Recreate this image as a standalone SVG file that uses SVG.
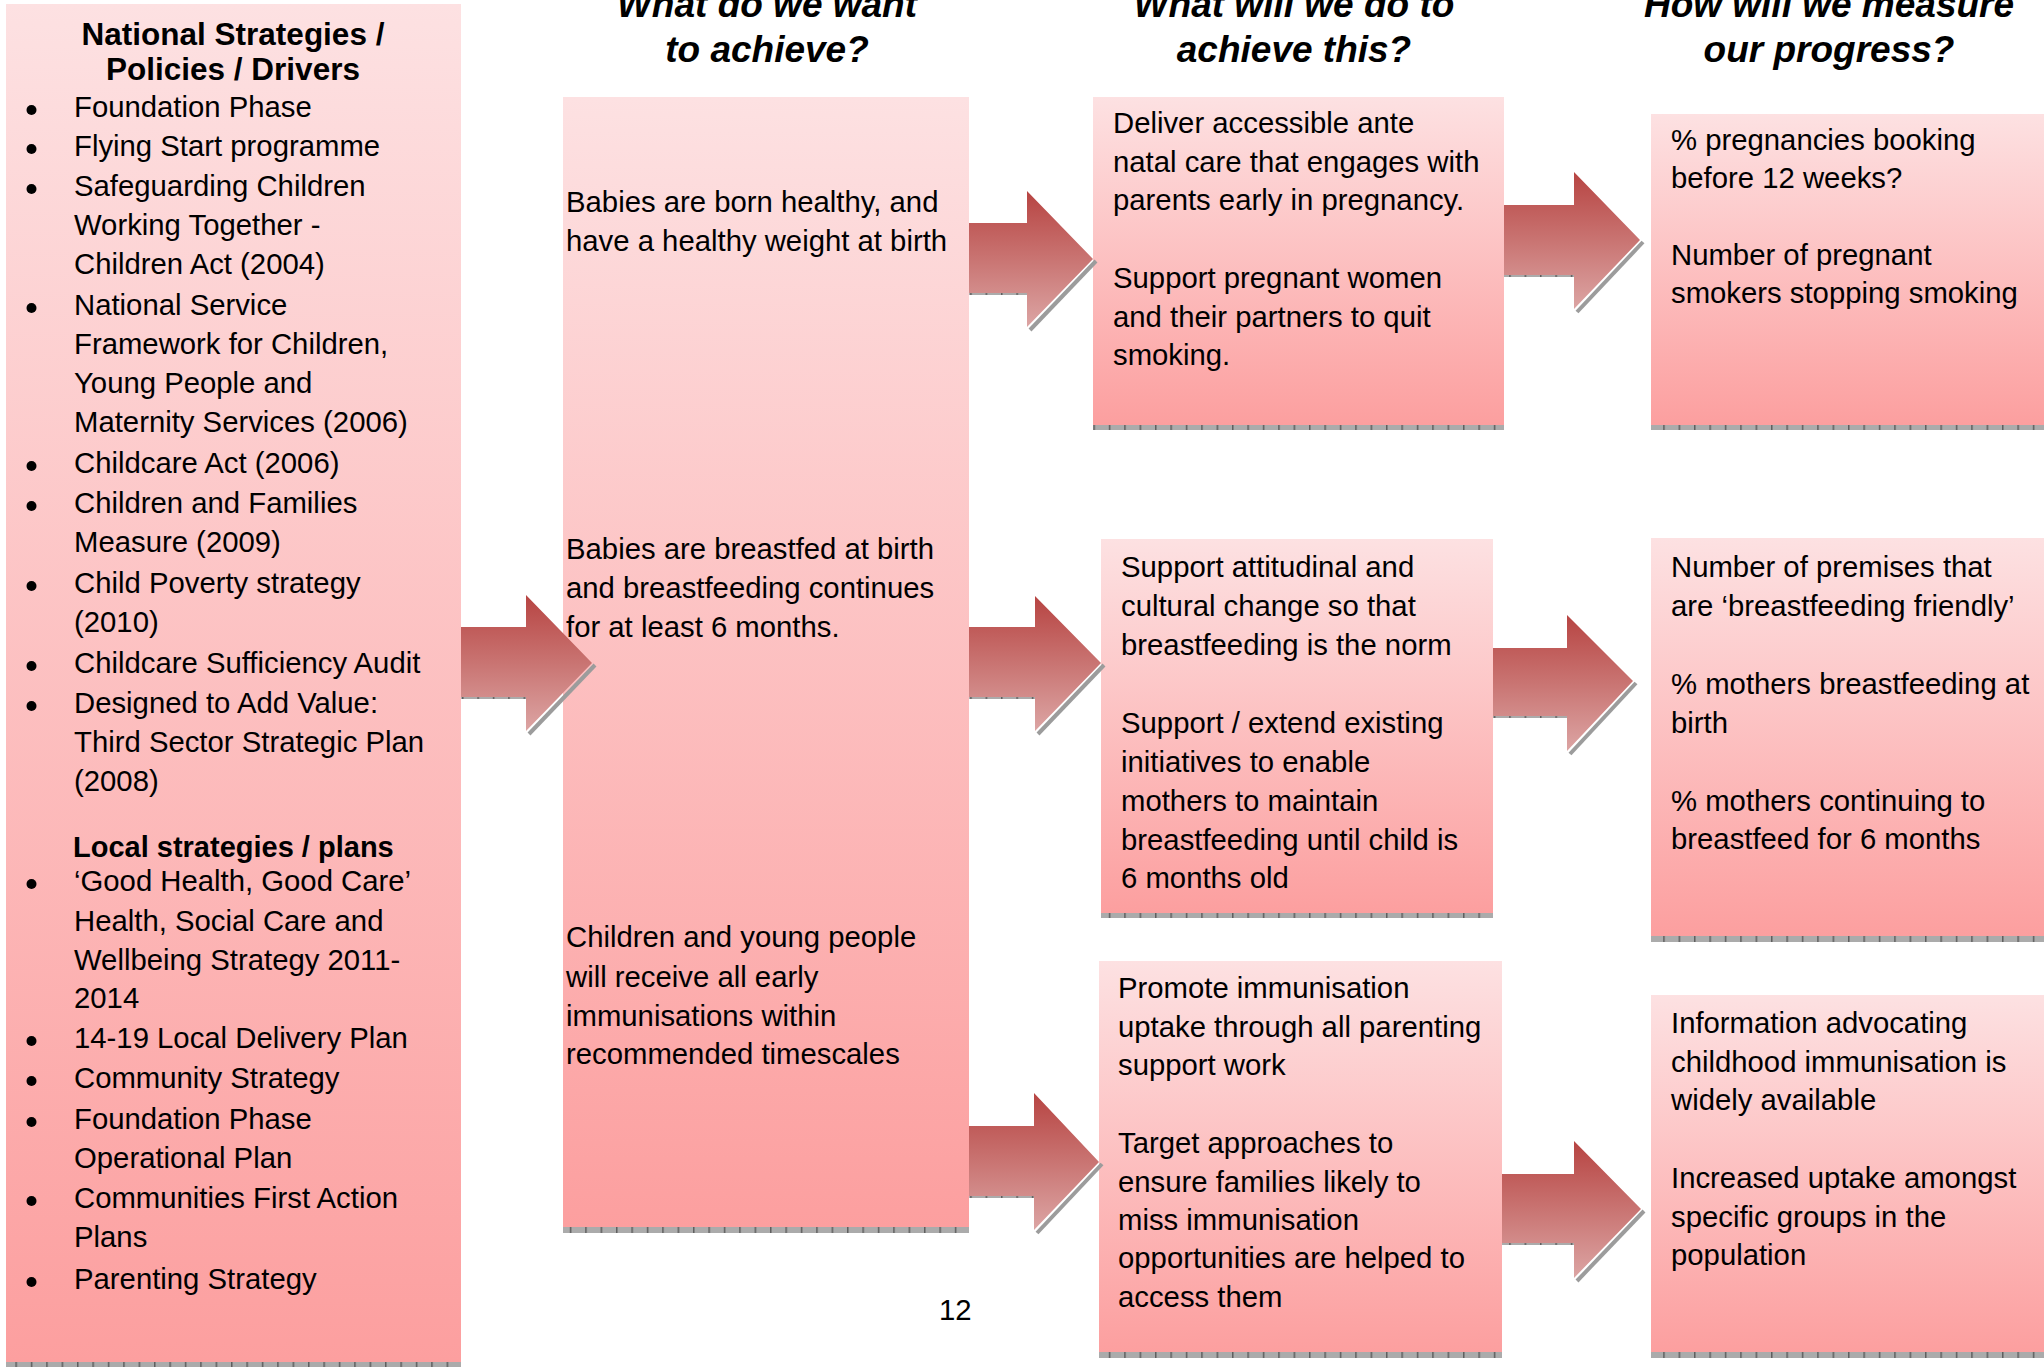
<svg xmlns="http://www.w3.org/2000/svg" width="2044" height="1367" viewBox="0 0 2044 1367">
<style>
.t{font-family:"Liberation Sans",Arial,sans-serif;font-size:29.3px;fill:#000}
.b{font-family:"Liberation Sans",Arial,sans-serif;font-weight:bold;fill:#000}
.h{font-family:"Liberation Sans",Arial,sans-serif;font-weight:bold;font-style:italic;font-size:37px;fill:#000;text-anchor:middle}
.bul{fill:#000}
.box{fill:url(#boxGrad)}
.hatch{fill:url(#hatch)}
.arrow{fill:url(#arrowGrad)}
.shadow{fill:none;stroke:#9c9c9c;stroke-width:4}
</style>
<defs>
<linearGradient id="boxGrad" x1="0" y1="0" x2="0" y2="1">
<stop offset="0" stop-color="#fde1e2"/>
<stop offset="1" stop-color="#fc9f9f"/>
</linearGradient>
<linearGradient id="arrowGrad" x1="0" y1="0" x2="0" y2="1">
<stop offset="0" stop-color="#b74442"/>
<stop offset="0.5" stop-color="#c97472"/>
<stop offset="1" stop-color="#dca5a4"/>
</linearGradient>
<pattern id="hatch" width="15.4" height="6" patternUnits="userSpaceOnUse">
<rect width="15.4" height="6" fill="#ababab"/>
<rect width="1.5" height="6" fill="#5e5e5e"/>
</pattern>
</defs>
<rect width="2044" height="1367" fill="#fff"/>

<g id="headers">
<text class="h" x="767" y="17">What do we want</text>
<text class="h" x="767" y="62">to achieve?</text>
<text class="h" x="1294" y="17">What will we do to</text>
<text class="h" x="1294" y="62">achieve this?</text>
<text class="h" x="1829" y="17">How will we measure</text>
<text class="h" x="1829" y="62">our progress?</text>
</g>

<g id="node-drivers">
<rect class="box" x="6" y="4" width="455" height="1358"/>
<rect class="hatch" x="6" y="1362" width="455" height="5"/>
<text class="b" x="233" y="45" font-size="31.5" text-anchor="middle">National Strategies /</text>
<text class="b" x="233" y="80" font-size="31.5" text-anchor="middle">Policies / Drivers</text>
<g class="bul">
<circle cx="31.5" cy="110" r="5"/>
<circle cx="31.5" cy="149" r="5"/>
<circle cx="31.5" cy="189" r="5"/>
<circle cx="31.5" cy="308" r="5"/>
<circle cx="31.5" cy="466" r="5"/>
<circle cx="31.5" cy="506" r="5"/>
<circle cx="31.5" cy="586" r="5"/>
<circle cx="31.5" cy="666" r="5"/>
<circle cx="31.5" cy="706" r="5"/>
<circle cx="31.5" cy="884" r="5"/>
<circle cx="31.5" cy="1041" r="5"/>
<circle cx="31.5" cy="1081" r="5"/>
<circle cx="31.5" cy="1122" r="5"/>
<circle cx="31.5" cy="1201" r="5"/>
<circle cx="31.5" cy="1282" r="5"/>
</g>
<g class="t">
<text x="74" y="117">Foundation Phase</text>
<text x="74" y="156">Flying Start programme</text>
<text x="74" y="196">Safeguarding Children</text>
<text x="74" y="235">Working Together -</text>
<text x="74" y="274">Children Act (2004)</text>
<text x="74" y="315">National Service</text>
<text x="74" y="354">Framework for Children,</text>
<text x="74" y="393">Young People and</text>
<text x="74" y="432">Maternity Services (2006)</text>
<text x="74" y="473">Childcare Act (2006)</text>
<text x="74" y="513">Children and Families</text>
<text x="74" y="552">Measure (2009)</text>
<text x="74" y="593">Child Poverty strategy</text>
<text x="74" y="632">(2010)</text>
<text x="74" y="673">Childcare Sufficiency Audit</text>
<text x="74" y="713">Designed to Add Value:</text>
<text x="74" y="752">Third Sector Strategic Plan</text>
<text x="74" y="791">(2008)</text>
</g>
<text class="b" x="73" y="857" font-size="29">Local strategies / plans</text>
<g class="t">
<text x="74" y="891">‘Good Health, Good Care’</text>
<text x="74" y="931">Health, Social Care and</text>
<text x="74" y="970">Wellbeing Strategy 2011-</text>
<text x="74" y="1008">2014</text>
<text x="74" y="1048">14-19 Local Delivery Plan</text>
<text x="74" y="1088">Community Strategy</text>
<text x="74" y="1129">Foundation Phase</text>
<text x="74" y="1168">Operational Plan</text>
<text x="74" y="1208">Communities First Action</text>
<text x="74" y="1247">Plans</text>
<text x="74" y="1289">Parenting Strategy</text>
</g>
</g>

<g id="node-outcomes">
<rect class="box" x="563" y="97" width="406" height="1130"/>
<rect class="hatch" x="563" y="1227" width="406" height="6"/>
<g class="t">
<text x="566" y="212">Babies are born healthy, and</text>
<text x="566" y="251">have a healthy weight at birth</text>
<text x="566" y="559">Babies are breastfed at birth</text>
<text x="566" y="598">and breastfeeding continues</text>
<text x="566" y="637">for at least 6 months.</text>
<text x="566" y="947">Children and young people</text>
<text x="566" y="987">will receive all early</text>
<text x="566" y="1026">immunisations within</text>
<text x="566" y="1064">recommended timescales</text>
</g>
</g>

<g id="node-action-antenatal">
<rect class="box" x="1093" y="97" width="411" height="328"/>
<rect class="hatch" x="1093" y="425" width="411" height="5"/>
<g class="t">
<text x="1113" y="133">Deliver accessible ante</text>
<text x="1113" y="172">natal care that engages with</text>
<text x="1113" y="210">parents early in pregnancy.</text>
<text x="1113" y="288">Support pregnant women</text>
<text x="1113" y="327">and their partners to quit</text>
<text x="1113" y="365">smoking.</text>
</g>
</g>

<g id="node-action-breastfeeding">
<rect class="box" x="1101" y="539" width="392" height="374"/>
<rect class="hatch" x="1101" y="913" width="392" height="5"/>
<g class="t">
<text x="1121" y="577">Support attitudinal and</text>
<text x="1121" y="616">cultural change so that</text>
<text x="1121" y="655">breastfeeding is the norm</text>
<text x="1121" y="733">Support / extend existing</text>
<text x="1121" y="772">initiatives to enable</text>
<text x="1121" y="811">mothers to maintain</text>
<text x="1121" y="850">breastfeeding until child is</text>
<text x="1121" y="888">6 months old</text>
</g>
</g>

<g id="node-action-immunisation">
<rect class="box" x="1099" y="961" width="403" height="391"/>
<rect class="hatch" x="1099" y="1352" width="403" height="6"/>
<g class="t">
<text x="1118" y="998">Promote immunisation</text>
<text x="1118" y="1037">uptake through all parenting</text>
<text x="1118" y="1075">support work</text>
<text x="1118" y="1153">Target approaches to</text>
<text x="1118" y="1192">ensure families likely to</text>
<text x="1118" y="1230">miss immunisation</text>
<text x="1118" y="1268">opportunities are helped to</text>
<text x="1118" y="1307">access them</text>
</g>
</g>

<g id="node-measure-antenatal">
<rect class="box" x="1651" y="114" width="393" height="311"/>
<rect class="hatch" x="1651" y="425" width="393" height="5"/>
<g class="t">
<text x="1671" y="150">% pregnancies booking</text>
<text x="1671" y="188">before 12 weeks?</text>
<text x="1671" y="265">Number of pregnant</text>
<text x="1671" y="303">smokers stopping smoking</text>
</g>
</g>

<g id="node-measure-breastfeeding">
<rect class="box" x="1651" y="538" width="393" height="398"/>
<rect class="hatch" x="1651" y="936" width="393" height="6"/>
<g class="t">
<text x="1671" y="577">Number of premises that</text>
<text x="1671" y="616">are ‘breastfeeding friendly’</text>
<text x="1671" y="694">% mothers breastfeeding at</text>
<text x="1671" y="733">birth</text>
<text x="1671" y="811">% mothers continuing to</text>
<text x="1671" y="849">breastfeed for 6 months</text>
</g>
</g>

<g id="node-measure-immunisation">
<rect class="box" x="1651" y="995" width="393" height="357"/>
<rect class="hatch" x="1651" y="1352" width="393" height="6"/>
<g class="t">
<text x="1671" y="1033">Information advocating</text>
<text x="1671" y="1072">childhood immunisation is</text>
<text x="1671" y="1110">widely available</text>
<text x="1671" y="1188">Increased uptake amongst</text>
<text x="1671" y="1227">specific groups in the</text>
<text x="1671" y="1265">population</text>
</g>
</g>

<g id="connectors">
<g id="arrow-drivers-outcomes">
<rect class="hatch" x="461" y="695" width="65" height="4"/>
<polyline class="shadow" points="595,665 529,734"/>
<path class="arrow" d="M461 627 H526 V595 L592 663 L526 731 V697 H461 Z"/>
</g>
<g id="arrow-outcome1-action1">
<rect class="hatch" x="969" y="291" width="58" height="4"/>
<polyline class="shadow" points="1096,261 1030,330"/>
<path class="arrow" d="M969 223 H1027 V191 L1093 259 L1027 327 V293 H969 Z"/>
</g>
<g id="arrow-action1-measure1">
<rect class="hatch" x="1504" y="273" width="70" height="4"/>
<polyline class="shadow" points="1643,242 1577,312"/>
<path class="arrow" d="M1504 205 H1574 V172 L1640 240 L1574 309 V275 H1504 Z"/>
</g>
<g id="arrow-outcome2-action2">
<rect class="hatch" x="969" y="695" width="66" height="4"/>
<polyline class="shadow" points="1104,665 1038,734"/>
<path class="arrow" d="M969 627 H1035 V596 L1101 663 L1035 731 V697 H969 Z"/>
</g>
<g id="arrow-action2-measure2">
<rect class="hatch" x="1493" y="714" width="74" height="4"/>
<polyline class="shadow" points="1636,683 1570,754"/>
<path class="arrow" d="M1493 648 H1567 V615 L1633 681 L1567 751 V716 H1493 Z"/>
</g>
<g id="arrow-outcome3-action3">
<rect class="hatch" x="969" y="1194" width="65" height="4"/>
<polyline class="shadow" points="1102,1164 1037,1233"/>
<path class="arrow" d="M969 1126 H1034 V1093 L1099 1162 L1034 1230 V1196 H969 Z"/>
</g>
<g id="arrow-action3-measure3">
<rect class="hatch" x="1502" y="1241" width="72" height="4"/>
<polyline class="shadow" points="1644,1211 1577,1281"/>
<path class="arrow" d="M1502 1174 H1574 V1141 L1641 1209 L1574 1278 V1243 H1502 Z"/>
</g>
</g>

<text class="t" x="939" y="1320">12</text>
</svg>
